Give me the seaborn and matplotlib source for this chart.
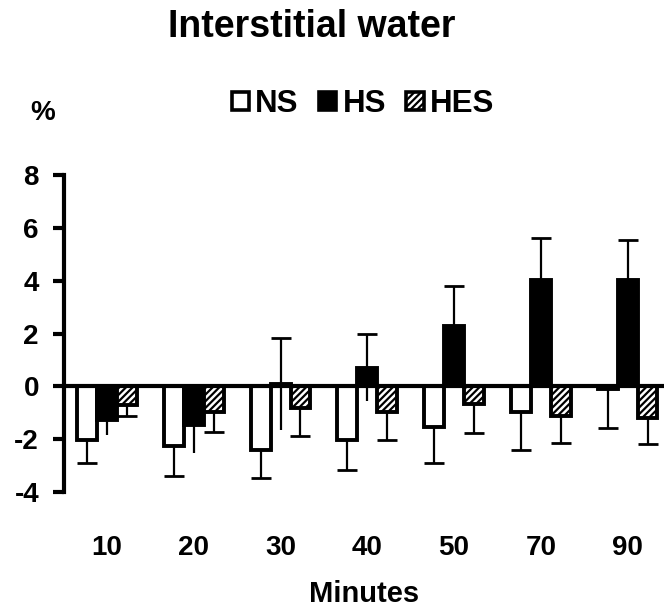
import numpy as np
import pandas as pd
import matplotlib
matplotlib.use("Agg")
import matplotlib.pyplot as plt
from matplotlib.patches import Patch
import seaborn as sns

minutes = ["10", "20", "30", "40", "50", "70", "90"]
groups = ["NS", "HS", "HES"]
ns_mean = [-2.02, -2.27, -2.42, -2.02, -1.55, -0.97, -0.10]
ns_err = [0.87, 1.13, 1.06, 1.15, 1.34, 1.45, 1.48]
hs_mean = [-1.28, -1.48, 0.08, 0.70, 2.28, 4.02, 4.02]
hs_err = [0.58, 1.03, 1.74, 1.27, 1.51, 1.59, 1.52]
hes_mean = [-0.70, -0.97, -0.82, -0.97, -0.67, -1.14, -1.20]
hes_err = [0.42, 0.76, 1.06, 1.07, 1.08, 0.99, 1.00]
yticks = [-4, -2, 0, 2, 4, 6, 8]

sns.set_theme(style="white")
plt.rcParams["font.family"] = ["Liberation Sans", "DejaVu Sans"]
plt.rcParams["font.weight"] = "bold"
plt.rcParams["axes.unicode_minus"] = False
plt.rcParams["hatch.linewidth"] = 1.6
plt.rcParams["text.color"] = "black"
plt.rcParams["axes.labelcolor"] = "black"
plt.rcParams["xtick.color"] = "black"
plt.rcParams["ytick.color"] = "black"
plt.rcParams["xtick.labelcolor"] = "black"
plt.rcParams["ytick.labelcolor"] = "black"

df = pd.DataFrame({
    "Minutes": minutes * 3,
    "group": ["NS"] * 7 + ["HS"] * 7 + ["HES"] * 7,
    "value": ns_mean + hs_mean + hes_mean,
})

fig = plt.figure(figsize=(6.64, 6.10), dpi=100)
ax = fig.add_axes([64 / 664, 118 / 610, 1 - 64 / 664, 317 / 610])

sns.barplot(data=df, x="Minutes", y="value", hue="group", order=minutes,
            hue_order=groups, palette=["white", "black", "white"],
            edgecolor="black", linewidth=2.8, width=0.69, errorbar=None,
            legend=False, ax=ax, zorder=2)

containers = ax.containers
for bar in containers[2]:
    bar.set_hatch("/////")

def centers(cont):
    return np.array([b.get_x() + b.get_width() / 2 for b in cont])

xs_ns, xs_hs, xs_hes = (centers(c) for c in containers[:3])
lw_err = 1.6
cap = dict(marker="_", markersize=15, mew=2.0, color="black", ls="none", zorder=1)

# NS and HES: downward error with cap
for xs, m, e in [(xs_ns, ns_mean, ns_err), (xs_hes, hes_mean, hes_err)]:
    m = np.array(m); e = np.array(e)
    ax.vlines(xs, m - e, m, color="black", lw=lw_err, zorder=1)
    ax.plot(xs, m - e, **cap)

# HS: symmetric, cap on upper end only
m = np.array(hs_mean); e = np.array(hs_err)
ax.vlines(xs_hs, m - e, m + e, color="black", lw=lw_err, zorder=1)
ax.plot(xs_hs, m + e, **cap)

ax.axhline(0, color="black", lw=3.0, zorder=3)

ax.set_ylim(-4, 8)
ax.set_xlim(-0.496, 6.42)
ax.set_yticks(yticks)
ax.set_yticklabels([str(t) for t in yticks])
for s in ["top", "right", "bottom"]:
    ax.spines[s].set_visible(False)
ax.spines["left"].set_linewidth(3.0)
ax.spines["left"].set_color("black")
ax.tick_params(axis="y", length=8, width=3.0, pad=10, labelsize=20,
               left=True, direction="out", color="black", labelcolor="black")
ax.tick_params(axis="x", length=0, pad=31, labelsize=20, labelcolor="black")
for lab in ax.get_xticklabels() + ax.get_yticklabels():
    lab.set_fontweight("bold")
ax.set_ylabel("")
ax.set_xlabel("Minutes", fontsize=21, fontweight="bold", va="center", color="black")
ax.xaxis.set_label_coords(0.5, -(594 - 492) / 317)

fig.text(312 / 664, 1 - 27 / 610, "Interstitial water", ha="center", va="center",
         fontsize=27, fontweight="bold", color="black")
fig.text(43 / 664, 1 - 113 / 610, "%", ha="center", va="center",
         fontsize=20, fontweight="bold", color="black")

handles = [Patch(facecolor="white", edgecolor="black", lw=2.6),
           Patch(facecolor="black", edgecolor="black", lw=2.6),
           Patch(facecolor="white", edgecolor="black", lw=2.6, hatch="/////")]
leg = fig.legend(handles, groups, loc="center", bbox_to_anchor=(363 / 664, 1 - 104 / 610),
                 ncol=3, frameon=False, handlelength=0.55, handleheight=0.55,
                 handletextpad=0.2, columnspacing=0.65, borderaxespad=0,
                 labelcolor="black", prop={"size": 22.5, "weight": "bold"})

fig.savefig("out.png", dpi=100)
